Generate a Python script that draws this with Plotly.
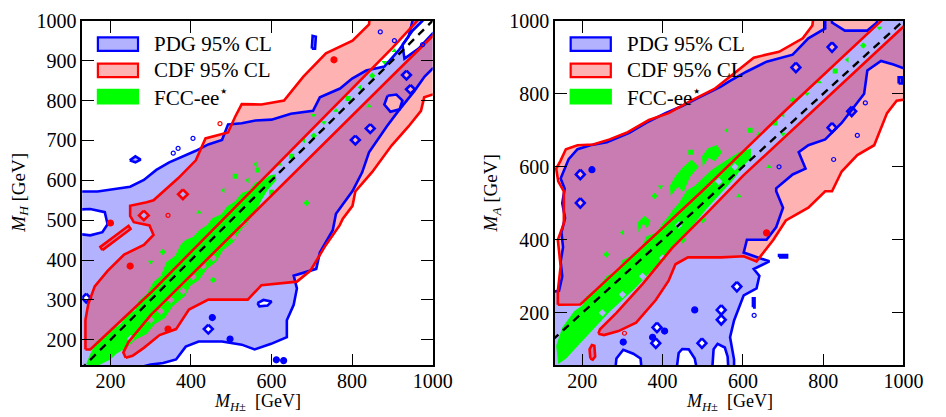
import plotly.graph_objects as go
from plotly.subplots import make_subplots

# ---------------------------------------------------------------------------
# Allowed regions in the (M_H+-, M_H) plane  [GeV]
# ---------------------------------------------------------------------------
PDG_H_OUTER = [
    (100, 100), (283, 100), (283, 134), (300, 138), (331, 142), (363, 151), (387, 183),
    (419, 196), (477, 196), (526, 188), (558, 176), (599, 190), (638, 207), (638, 249),
    (655, 288), (663, 329), (655, 361), (711, 378), (720, 419), (752, 475), (760, 516),
    (801, 573), (825, 620), (842, 670), (886, 735), (915, 774), (954, 823), (980, 860),
    (1000, 880), (1050, 880), (1050, 1050), (955, 1050), (950, 1000), (940, 960),
    (915, 925), (880, 885), (835, 875), (800, 855), (770, 830), (720, 808), (703, 774),
    (648, 767), (600, 752), (560, 750), (526, 743), (492, 740), (477, 701), (443, 690),
    (412, 674), (368, 655), (346, 645), (314, 626), (283, 601), (249, 584), (200, 577),
    (168, 572), (100, 572), (100, 526), (150, 528), (186, 520), (193, 490), (180, 470),
    (150, 462), (100, 468),
]
PDG_H_GAP = [(930, 905), (965, 930), (1000, 968), (1040, 1000), (1040, 1040),
             (990, 1040), (975, 1000), (950, 975), (925, 940)]
PDG_H_POCKET = [(880, 790), (895, 772), (918, 778), (925, 800), (910, 815), (888, 812)]
PDG_H_NOTCH = [(565, 292), (580, 300), (600, 296), (590, 286), (570, 284)]
PDG_H_HOLES = [(935, 864), (945, 828), (845, 730), (808, 701), (443, 227), (140, 305)]
PDG_H_ISLANDS = [
    [(700, 930), (708, 930), (710, 960), (702, 962)],
    [(248, 650), (262, 645), (275, 652), (262, 660)],
]
PDG_H_DOTS = [(453, 256), (497, 202), (612, 150), (630, 148)]
PDG_H_RINGS = [(356, 668), (368, 680), (405, 705), (870, 972), (905, 950), (975, 940)]

CDF_H_UPPER = [
    (138, 176), (150, 176), (300, 318), (500, 522), (700, 728), (900, 932), (962, 1000),
    (965, 1050), (848, 1050), (842, 991), (801, 950), (735, 918), (679, 860), (631, 800),
    (575, 790), (526, 791), (510, 760), (492, 720), (436, 705), (412, 650), (368, 605),
    (307, 550), (290, 545), (249, 536), (249, 511), (258, 495), (297, 487), (307, 463),
    (283, 438), (234, 414), (193, 373), (161, 334), (145, 290), (138, 250),
]
CDF_H_LOWER = [
    (232, 168), (245, 195), (300, 262), (500, 462), (700, 662), (900, 862), (1050, 1012),
    (1050, 815), (1000, 815), (979, 808), (971, 774), (940, 735), (898, 687), (850, 621),
    (808, 572), (801, 536), (777, 504), (769, 487), (735, 438), (720, 414), (696, 373),
    (663, 346), (623, 341), (575, 337), (541, 301), (492, 301), (443, 301), (395, 276),
    (363, 227), (322, 212), (283, 180), (255, 160), (238, 155),
]
CDF_H_HOLES = [(380, 565), (283, 512)]
CDF_H_ISLANDS = [[(180, 425), (250, 478), (245, 486), (175, 433)]]
CDF_H_DOTS = [(249, 385), (343, 227), (200, 493), (755, 902)]
CDF_H_RINGS = [(343, 512), (472, 742)]

FCC_H = [
    (140, 140), (150, 165), (168, 200), (185, 205), (200, 222), (225, 240), (241, 263),
    (262, 275), (270, 298), (290, 315), (307, 346), (325, 360), (339, 395), (360, 410),
    (375, 440), (387, 451), (405, 458), (420, 475), (440, 488), (453, 505), (475, 515),
    (490, 535), (510, 548), (526, 568), (545, 575), (560, 595), (580, 600), (595, 612),
    (610, 615), (612, 600), (590, 575), (575, 550), (560, 520), (540, 495), (520, 470),
    (505, 445), (480, 425), (462, 395), (440, 378), (420, 350), (398, 335), (385, 310),
    (355, 285), (335, 255), (310, 240), (290, 215), (262, 200), (240, 180), (215, 165),
    (200, 151), (170, 136), (150, 130),
]
FCC_H_HOLES = [(300, 250), (350, 300), (405, 358), (455, 405), (250, 203), (505, 458),
               (430, 385), (530, 490), (380, 322), (325, 272)]
FCC_H_SPECKS = [(620, 640), (650, 660), (680, 700), (705, 712), (730, 745), (760, 775),
                (790, 805), (820, 833), (850, 862), (880, 896), (905, 925), (565, 626),
                (540, 600), (687, 543), (704, 763), (842, 786), (600, 570), (480, 575),
                (330, 420), (300, 395), (420, 520), (510, 610), (560, 640), (455, 350)]

# ---------------------------------------------------------------------------
# Allowed regions in the (M_H+-, M_A) plane  [GeV]
# ---------------------------------------------------------------------------
PDG_A_OUTER = [
    (100, 20), (280, 20), (285, 75), (302, 99), (327, 88), (345, 75), (350, 20),
    (432, 20), (440, 90), (449, 101), (465, 100), (480, 75), (490, 20), (522, 20),
    (527, 100), (537, 115), (555, 105), (562, 80), (565, 20), (578, 20), (578, 72),
    (568, 133), (578, 179), (602, 248), (634, 267), (641, 301), (627, 320), (666, 341),
    (602, 365), (610, 400), (659, 400), (683, 435), (700, 488), (683, 533), (683, 541),
    (724, 579), (756, 595), (739, 640), (763, 659), (805, 675), (846, 720), (902, 800),
    (910, 864), (944, 890), (975, 880), (1000, 870), (1050, 870), (1050, 1050),
    (937, 1050), (934, 995), (910, 973), (854, 973), (822, 995), (818, 1050), (805, 1050),
    (805, 979), (763, 952), (724, 907), (659, 888), (610, 861), (568, 835), (544, 819),
    (495, 792), (446, 765), (407, 747), (359, 720), (317, 693), (261, 667), (220, 659),
    (188, 648), (166, 621), (146, 568), (156, 540), (150, 500), (157, 460), (148, 420),
    (152, 380), (146, 340), (150, 300), (142, 260), (100, 255),
]
PDG_A_HOLES = [(195, 579), (195, 501), (822, 928), (732, 872), (871, 752), (822, 707),
               (383, 117), (498, 117), (546, 208), (546, 181), (585, 272), (386, 160)]
PDG_A_ISLANDS = [
    [(690, 352), (710, 352), (710, 358), (690, 358)],
    [(625, 215), (629, 215), (629, 240), (625, 240)],
    [(988, 828), (996, 828), (996, 845), (988, 845)],
]
PDG_A_DOTS = [(224, 592), (302, 120), (375, 133), (480, 208), (405, 150)]
PDG_A_RINGS = [(628, 193), (905, 775), (885, 686), (826, 620), (690, 600)]

CDF_A_UPPER = [
    (139, 222), (195, 223), (300, 330), (500, 535), (700, 748), (900, 952), (945, 1000),
    (950, 1050), (780, 1050), (773, 987), (749, 952), (690, 915), (627, 899), (566, 845),
    (529, 813), (471, 781), (415, 747), (366, 728), (310, 693), (268, 675), (227, 661),
    (188, 659), (159, 648), (145, 615), (135, 595), (140, 560), (154, 533), (154, 445),
    (139, 400), (146, 328), (139, 259),
]
CDF_A_LOWER = [
    (244, 155), (285, 200), (351, 280), (424, 378), (512, 475), (600, 575), (700, 678),
    (800, 780), (900, 882), (1000, 984), (1050, 1035), (1050, 792), (983, 781),
    (959, 747), (927, 659), (885, 632), (846, 587), (822, 533), (805, 533), (763, 488),
    (707, 453), (676, 400), (634, 341), (602, 355), (546, 352), (463, 352), (432, 333),
    (415, 288), (383, 235), (334, 173), (290, 150), (254, 139), (240, 143),
]
CDF_A_ISLANDS = [[(220, 75), (226, 72), (232, 80), (230, 110), (224, 112), (218, 100)]]
CDF_A_DOTS = [(659, 419)]
CDF_A_RINGS = [(305, 144)]

FCC_A = [
    (135, 110), (150, 160), (180, 205), (200, 220), (210, 245), (240, 270), (260, 300),
    (290, 318), (300, 345), (320, 355), (345, 375), (360, 410), (385, 420), (400, 445),
    (415, 465), (424, 480), (440, 500), (460, 535), (480, 548), (500, 570), (520, 590),
    (540, 605), (560, 620), (590, 640), (620, 650), (620, 625), (600, 600), (580, 570),
    (560, 545), (540, 520), (510, 485), (480, 445), (450, 410), (420, 370), (390, 335),
    (360, 300), (330, 265), (300, 235), (270, 205), (240, 172), (210, 135), (185, 105),
    (160, 75), (140, 60),
]
FCC_A_PATCHES = [
    [(420, 520), (438, 545), (452, 530), (468, 572), (490, 600), (472, 620), (450, 598),
     (432, 575), (418, 548)],
    [(500, 600), (515, 625), (530, 615), (548, 640), (535, 660), (512, 650), (498, 628)],
    [(340, 420), (352, 445), (362, 430), (370, 452), (355, 465), (338, 448)],
]
FCC_A_HOLES = [(250, 200), (300, 250), (350, 300), (400, 350), (450, 400), (500, 455),
               (540, 560), (440, 440), (580, 600)]
FCC_A_SPECKS = [(640, 690), (680, 720), (700, 742), (725, 782), (760, 800), (790, 832),
                (830, 862), (860, 893), (900, 932), (940, 980), (665, 600), (618, 700),
                (560, 700), (380, 520), (700, 690), (590, 520), (470, 640), (300, 420),
                (260, 360), (395, 545)]

DIAGONAL = [100, 1050]

X_RANGE_H, Y_RANGE_H = [130, 1000], [136, 1000]
X_RANGE_A, Y_RANGE_A = [132, 1000], [56, 1000]
X_TICKS = [200, 400, 600, 800, 1000]
Y_TICKS_H = [200, 300, 400, 500, 600, 700, 800, 900, 1000]
Y_TICKS_A = [200, 400, 600, 800, 1000]

LEGEND_LABELS = ["PDG 95% CL", "CDF 95% CL", "FCC-ee<sup>⋆</sup>"]

BLUE, RED, GREEN = "#0000ff", "#ff0000", "#00ff00"
BLUE_FILL, RED_FILL = "rgba(0,0,255,0.3)", "rgba(255,0,0,0.3)"
FONT = "Liberation Serif"
LW = 2.6


def signed_area(ring):
    s = 0.0
    for (x0, y0), (x1, y1) in zip(ring, ring[1:] + ring[:1]):
        s += x0 * y1 - x1 * y0
    return s / 2


def oriented(ring, ccw):
    return ring if (signed_area(ring) > 0) == ccw else ring[::-1]


def diamond(c, rx, ry):
    cx, cy = c
    return [(cx - rx, cy), (cx, cy - ry), (cx + rx, cy), (cx, cy + ry)]


def assemble(solids, holes=()):
    """Concatenate closed rings; holes get opposite winding so they cut out."""
    xs, ys = [], []
    for ring, ccw in [(r, True) for r in solids] + [(r, False) for r in holes]:
        r = oriented(list(ring), ccw)
        r = r + r[:1]
        xs += [p[0] for p in r] + [None]
        ys += [p[1] for p in r] + [None]
    return xs, ys


def region(fig, col, solids, holes, fill, line):
    xs, ys = assemble(solids, holes)
    fig.add_trace(go.Scatter(x=xs, y=ys, mode="lines", fill="toself", fillcolor=fill,
                             line=dict(width=0), hoverinfo="skip"), row=1, col=col)
    return (xs, ys, line)


def outline(fig, col, path):
    xs, ys, line = path
    fig.add_trace(go.Scatter(x=xs, y=ys, mode="lines", line=dict(color=line, width=LW),
                             hoverinfo="skip"), row=1, col=col)


def dots(fig, col, pts, color, symbol, size, fillcolor=None):
    if not pts:
        return
    fig.add_trace(go.Scatter(
        x=[p[0] for p in pts], y=[p[1] for p in pts], mode="markers",
        marker=dict(symbol=symbol, size=size, color=fillcolor or color,
                    line=dict(color=color, width=1.2)),
        hoverinfo="skip"), row=1, col=col)


fig = make_subplots(rows=1, cols=2)

speck_symbols = ["triangle-up", "square", "triangle-left", "diamond", "triangle-down"]

panels = [
    dict(col=1,
         pdg=[PDG_H_OUTER] + PDG_H_ISLANDS,
         pdg_holes=[PDG_H_GAP, PDG_H_POCKET, PDG_H_NOTCH] + [diamond(c, 11, 11) for c in PDG_H_HOLES],
         cdf=[CDF_H_UPPER, CDF_H_LOWER] + CDF_H_ISLANDS,
         cdf_holes=[diamond(c, 12, 12) for c in CDF_H_HOLES],
         fcc=[FCC_H], fcc_holes=[diamond(c, 9, 9) for c in FCC_H_HOLES], specks=FCC_H_SPECKS,
         pdg_dots=PDG_H_DOTS, pdg_rings=PDG_H_RINGS, cdf_dots=CDF_H_DOTS, cdf_rings=CDF_H_RINGS),
    dict(col=2,
         pdg=[PDG_A_OUTER] + PDG_A_ISLANDS,
         pdg_holes=[diamond(c, 11, 13) for c in PDG_A_HOLES],
         cdf=[CDF_A_UPPER, CDF_A_LOWER] + CDF_A_ISLANDS,
         cdf_holes=[],
         fcc=[FCC_A] + FCC_A_PATCHES, fcc_holes=[diamond(c, 9, 10) for c in FCC_A_HOLES],
         specks=FCC_A_SPECKS,
         pdg_dots=PDG_A_DOTS, pdg_rings=PDG_A_RINGS, cdf_dots=CDF_A_DOTS, cdf_rings=CDF_A_RINGS),
]

for p in panels:
    c = p["col"]
    pdg_path = region(fig, c, p["pdg"], p["pdg_holes"], BLUE_FILL, BLUE)
    cdf_path = region(fig, c, p["cdf"], p["cdf_holes"], RED_FILL, RED)
    region(fig, c, p["fcc"], p["fcc_holes"], GREEN, GREEN)
    sp = p["specks"]
    fig.add_trace(go.Scatter(
        x=[q[0] for q in sp], y=[q[1] for q in sp], mode="markers",
        marker=dict(symbol=[speck_symbols[i % len(speck_symbols)] for i in range(len(sp))],
                    size=5, color=GREEN, line=dict(width=0)),
        hoverinfo="skip"), row=1, col=c)
    outline(fig, c, pdg_path)
    outline(fig, c, cdf_path)
    dots(fig, c, p["pdg_dots"], BLUE, "circle", 6)
    dots(fig, c, p["pdg_rings"], BLUE, "circle-open", 4)
    dots(fig, c, p["cdf_dots"], RED, "circle", 6)
    dots(fig, c, p["cdf_rings"], RED, "circle-open", 4)
    fig.add_trace(go.Scatter(x=DIAGONAL, y=DIAGONAL, mode="lines",
                             line=dict(color="black", width=2.4, dash="8px,6px"),
                             hoverinfo="skip"), row=1, col=c)

W, H = 946, 417
axis_style = dict(showline=True, linecolor="black", linewidth=1.6, mirror="ticks",
                  ticks="inside", ticklen=12, tickwidth=1.4, tickcolor="black",
                  showgrid=False, zeroline=False, ticklabeloverflow="allow",
                  tickfont=dict(family=FONT, size=20, color="black"))
x_style = dict(axis_style, ticklabelstandoff=-3)

fig.update_layout(
    width=W, height=H, margin=dict(l=0, r=0, t=0, b=0),
    paper_bgcolor="white", plot_bgcolor="white", showlegend=False,
    font=dict(family=FONT, size=20, color="black"),
    xaxis=dict(domain=[84 / W, 442 / W], range=X_RANGE_H, tickvals=X_TICKS, **x_style),
    yaxis=dict(domain=[1 - 364 / H, 1 - 10 / H], range=Y_RANGE_H, tickvals=Y_TICKS_H, **axis_style),
    xaxis2=dict(domain=[567 / W, 923 / W], range=X_RANGE_A, tickvals=X_TICKS, **x_style),
    yaxis2=dict(domain=[1 - 364 / H, 1 - 10 / H], range=Y_RANGE_A, tickvals=Y_TICKS_A, **axis_style),
)

# axis titles: x titles sit on the bottom edge, y titles are rotated
x_titles = [(263, "<i>M</i><sub><i>H</i>±</sub>  [GeV]"), (745, "<i>M</i><sub><i>H</i>±</sub>  [GeV]")]
for x, txt in x_titles:
    fig.add_annotation(x=x / W, y=1 / H, xref="paper", yref="paper", text=txt,
                       showarrow=False, xanchor="center", yanchor="bottom",
                       font=dict(family=FONT, size=18, color="black"))
y_titles = [(20, "<i>M</i><sub><i>H</i></sub> [GeV]"), (503, "<i>M</i><sub><i>A</i></sub> [GeV]")]
for x, txt in y_titles:
    fig.add_annotation(x=x / W, y=1 - 187 / H, xref="paper", yref="paper", text=txt,
                       showarrow=False, textangle=-90, xanchor="center", yanchor="middle",
                       font=dict(family=FONT, size=19, color="black"))

# legends drawn inside each panel
swatches = [(BLUE_FILL, BLUE), (RED_FILL, RED), (GREEN, GREEN)]
for x0 in (100, 583):
    for i, ((fc, lc), label) in enumerate(zip(swatches, LEGEND_LABELS)):
        yc = 34 + 27 * i
        fig.add_shape(type="rect", xref="paper", yref="paper",
                      x0=x0 / W, x1=(x0 + 41) / W, y0=1 - (yc - 7) / H, y1=1 - (yc + 7) / H,
                      fillcolor=fc, line=dict(color=lc, width=2.2))
        fig.add_annotation(x=(x0 + 55) / W, y=1 - yc / H, xref="paper", yref="paper",
                           text=label, showarrow=False, xanchor="left", yanchor="middle",
                           font=dict(family=FONT, size=21, color="black"))

fig.write_html("out.html")
